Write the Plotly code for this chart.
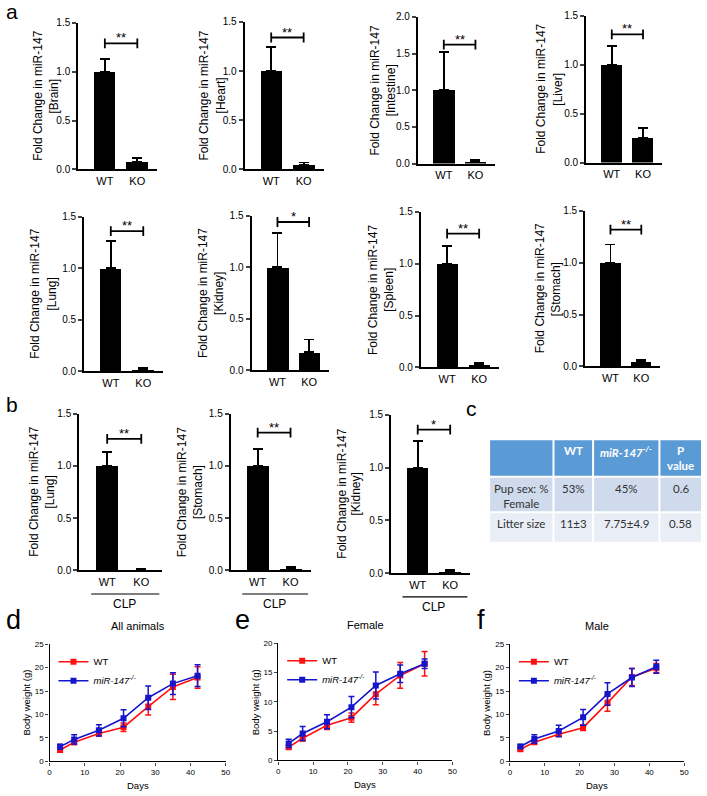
import plotly.graph_objects as go

W, H = 707, 796
FONT = "Liberation Sans, Arial, sans-serif"
TFONT = "Lato, Open Sans, sans-serif"

# ---------------- data ----------------
groups = ["WT", "KO"]

organs_a = ["Brain", "Heart", "Intestine", "Liver", "Lung", "Kidney", "Spleen", "Stomach"]
wt_mean_a = [1.0, 1.0, 1.0, 1.0, 1.0, 1.0, 1.0, 1.0]
wt_err_a = [0.13, 0.24, 0.52, 0.19, 0.265, 0.335, 0.17, 0.175]
ko_mean_a = [0.08, 0.05, 0.03, 0.25, 0.015, 0.175, 0.03, 0.045]
ko_err_a = [0.035, 0.02, 0.02, 0.10, 0.015, 0.125, 0.015, 0.02]
sig_a = ["**", "**", "**", "**", "**", "*", "**", "**"]
sig_y_a = [1.29, 1.34, 1.62, 1.31, 1.36, 1.44, 1.29, 1.32]
ymax_a = [1.5, 1.5, 2.0, 1.5, 1.5, 1.5, 1.5, 1.5]

organs_b = ["Lung", "Stomach", "Kidney"]
wt_mean_b = [1.0, 1.0, 1.0]
wt_err_b = [0.13, 0.16, 0.25]
ko_mean_b = [0.005, 0.015, 0.012]
ko_err_b = [0.005, 0.015, 0.02]
sig_b = ["**", "**", "*"]
sig_y_b = [1.26, 1.32, 1.36]
ymax_b = [1.5, 1.5, 1.5]
clp_label = "CLP"

ytitle_prefix = "Fold Change in miR-147"

table_header = ["", "<b>WT</b>", "<b><i>miR-147<sup>-/-</sup></i></b>", "<b>P<br>value</b>"]
table_row1 = ["Pup sex: %<br>Female", "53%", "45%", "0.6"]
table_row2 = ["Litter size", "11±3", "7.75±4.9", "0.58"]

days = [3, 7, 14, 21, 28, 35, 42]
line_titles = ["All animals", "Female", "Male"]
line_ymax = [25, 20, 25]
wt_all = [2.45, 4.1, 5.95, 7.3, 11.7, 15.9, 17.9]
wt_all_err = [0.4, 0.5, 0.5, 0.9, 1.8, 2.7, 2.3]
ko_all = [3.15, 4.7, 6.65, 9.2, 13.6, 16.6, 18.3]
ko_all_err = [0.5, 1.0, 1.2, 1.8, 2.5, 2.3, 2.3]
wt_fem = [2.25, 3.8, 6.0, 7.3, 11.3, 14.5, 16.5]
wt_fem_err = [0.3, 0.5, 0.7, 0.8, 1.8, 2.2, 2.1]
ko_fem = [2.9, 4.6, 6.6, 9.1, 12.8, 14.8, 16.5]
ko_fem_err = [0.7, 1.2, 1.2, 1.8, 2.3, 1.5, 0.8]
wt_male = [2.6, 4.1, 5.8, 7.2, 12.5, 18.0, 19.9]
wt_male_err = [0.4, 0.4, 0.5, 0.6, 1.8, 1.8, 1.0]
ko_male = [3.2, 4.8, 6.5, 9.4, 14.4, 17.9, 20.2]
ko_male_err = [0.4, 0.9, 1.2, 1.7, 2.4, 1.9, 1.4]
series_names = ["WT", "<i>miR-147<sup>-/-</sup></i>"]

# ---------------- layout positions (px) ----------------
boxes_a = [(77, 157, 17, 166), (245, 325, 16, 166), (420, 498, 11, 160), (590, 667, 10, 159),
           (83, 163, 214, 371), (252, 330, 213, 370), (423, 502, 209, 367), (589, 665, 208, 366)]
boxes_b = [(78, 162, 414, 573), (231, 312, 414, 573), (393, 473, 415, 576)]
title_off_a = [(-41, -24), (-41, -24), (-43, -27), (-45, -28),
               (-50, -32), (-49, -33), (-49, -32), (-46, -30)]
title_off_b = [(-46, -29), (-49, -33), (-50, -35)]
boxes_line = [(48, 226, 648, 767), (279, 455, 647, 766), (513, 689, 648, 767)]
table_col_edges = [492, 557, 597, 664, 707]
table_row_edges = [440, 478, 514, 545]

RED = "#FF1010"
BLUE = "#1515CC"
HEAD = "#5B9BD5"
ROW1 = "#CFDBEC"
ROW2 = "#E8EDF6"

fig = go.Figure()
layout = {}
annotations = []
shapes = []


def px(v):
    return v / W


def py(v):
    return 1 - v / H


def names(i):
    s = "" if i == 1 else str(i)
    return "x" + s, "y" + s, "xaxis" + s, "yaxis" + s


def vtext(xp, yp, text, size):
    annotations.append(dict(x=px(xp), y=py(yp), xref="paper", yref="paper", text=text,
                            textangle=-90, showarrow=False, xanchor="center", yanchor="middle",
                            font=dict(family=FONT, size=size, color="black")))


axis_idx = 0


def bar_panel(box, toff, organ, wt, wte, ko, koe, sig, sig_y, ymax, clp=False):
    global axis_idx
    axis_idx += 1
    xr, yr, xk, yk = names(axis_idx)
    l, r, t, b = box
    layout[xk] = dict(domain=[px(l), px(r)], range=[-0.82, 1.62], anchor=yr,
                      showline=True, linewidth=2, linecolor="black", ticks="",
                      tickvals=[0, 1], ticktext=groups, showgrid=False, zeroline=False,
                      tickfont=dict(family=FONT, size=11, color="black"), fixedrange=True)
    layout[yk] = dict(domain=[py(b), py(t)], range=[0, ymax], anchor=xr,
                      showline=True, linewidth=2, linecolor="black", ticks="outside",
                      ticklen=4, tickwidth=1.5, dtick=0.5, tickformat=".1f",
                      showgrid=False, zeroline=False,
                      tickfont=dict(family=FONT, size=10, color="black"), fixedrange=True)
    fig.add_trace(go.Bar(x=[0, 1], y=[wt, ko], width=0.67, marker=dict(color="black", line=dict(width=0)),
                         error_y=dict(type="data", symmetric=False, array=[wte, koe], arrayminus=[0, 0],
                                      color="black", thickness=1.8, width=5),
                         xaxis=xr, yaxis=yr, showlegend=False))
    fig.add_trace(go.Scatter(x=[0, 1], y=[sig_y, sig_y], mode="lines+markers",
                             line=dict(color="black", width=1.8),
                             marker=dict(symbol="line-ns", size=7, line=dict(color="black", width=1.8)),
                             xaxis=xr, yaxis=yr, showlegend=False, hoverinfo="skip"))
    annotations.append(dict(x=0.5, y=sig_y, xref=xr, yref=yr, text=sig, showarrow=False,
                            yanchor="bottom", yshift=-4, font=dict(family=FONT, size=13, color="black")))
    ymid = (t + b) / 2
    vtext(l + toff[0], ymid, ytitle_prefix, 12)
    vtext(l + toff[1], ymid, "[" + organ + "]", 12)
    if clp:
        shapes.append(dict(type="line", xref=xr, yref="paper", x0=-0.47, x1=1.53,
                           y0=py(b + 24), y1=py(b + 24), line=dict(color="black", width=1.2)))
        annotations.append(dict(x=0.5, y=py(b + 34), xref=xr, yref="paper", text=clp_label,
                                showarrow=False, xanchor="center", yanchor="middle",
                                font=dict(family=FONT, size=12, color="black")))


for i in range(len(organs_a)):
    bar_panel(boxes_a[i], title_off_a[i], organs_a[i], wt_mean_a[i], wt_err_a[i], ko_mean_a[i],
              ko_err_a[i], sig_a[i], sig_y_a[i], ymax_a[i])
for i in range(len(organs_b)):
    bar_panel(boxes_b[i], title_off_b[i], organs_b[i], wt_mean_b[i], wt_err_b[i], ko_mean_b[i],
              ko_err_b[i], sig_b[i], sig_y_b[i], ymax_b[i], clp=True)

line_data = [(wt_all, wt_all_err, ko_all, ko_all_err),
             (wt_fem, wt_fem_err, ko_fem, ko_fem_err),
             (wt_male, wt_male_err, ko_male, ko_male_err)]
legend_ids = ["legend", "legend2", "legend3"]

for k in range(3):
    axis_idx += 1
    xr, yr, xk, yk = names(axis_idx)
    l, r, t, b = boxes_line[k]
    layout[xk] = dict(domain=[px(l), px(r)], range=[0, 50], anchor=yr, dtick=10,
                      showline=True, linewidth=1.3, linecolor="black", ticks="outside",
                      ticklen=3, tickwidth=1.2, showgrid=False, zeroline=False,
                      tickfont=dict(family=FONT, size=8, color="black"), fixedrange=True)
    layout[yk] = dict(domain=[py(b), py(t)], range=[0, line_ymax[k]], anchor=xr, dtick=5,
                      showline=True, linewidth=1.3, linecolor="black", ticks="outside",
                      ticklen=3, tickwidth=1.2, showgrid=False, zeroline=False,
                      tickfont=dict(family=FONT, size=8, color="black"), fixedrange=True)
    wt, wte, ko, koe = line_data[k]
    for vals, errs, col, nm in [(wt, wte, RED, series_names[0]), (ko, koe, BLUE, series_names[1])]:
        fig.add_trace(go.Scatter(x=days, y=vals, mode="lines+markers", name=nm,
                                 line=dict(color=col, width=1.6),
                                 marker=dict(symbol="square", size=6, color=col),
                                 error_y=dict(type="data", array=errs, color=col, thickness=1.5, width=3),
                                 xaxis=xr, yaxis=yr, legend=legend_ids[k], showlegend=True))
    lk = legend_ids[k]
    layout[lk] = dict(x=px(l + 4), y=py(t + 3), xanchor="left", yanchor="top",
                      bgcolor="rgba(0,0,0,0)", font=dict(family=FONT, size=9.5, color="black"),
                      tracegroupgap=0, itemwidth=30)
    annotations.append(dict(x=px((l + r) / 2), y=py(t - 19), xref="paper", yref="paper",
                            text=line_titles[k], showarrow=False, xanchor="center", yanchor="middle",
                            font=dict(family=FONT, size=11, color="black")))
    annotations.append(dict(x=px((l + r) / 2), y=py(b + 24), xref="paper", yref="paper",
                            text="Days", showarrow=False, xanchor="center", yanchor="middle",
                            font=dict(family=FONT, size=9.5, color="black")))
    vtext(l - 23, (t + b) / 2, "Body weight (g)", 9.5)

# table c (cells as shapes, text as annotations)
table_rows = [table_header, table_row1, table_row2]
row_fills = [HEAD, ROW1, ROW2]
row_text_colors = ["white", "#333333", "#333333"]
for ri, row in enumerate(table_rows):
    top, bot = table_row_edges[ri], table_row_edges[ri + 1]
    for ci, txt in enumerate(row):
        lft, rgt = table_col_edges[ci], table_col_edges[ci + 1]
        shapes.append(dict(type="rect", xref="paper", yref="paper", layer="below",
                           x0=px(lft + 1), x1=px(rgt - 1), y0=py(bot - 1), y1=py(top + 1),
                           fillcolor=row_fills[ri], line=dict(width=0)))
        if txt:
            annotations.append(dict(x=px((lft + rgt) / 2), y=py(top + 3), xref="paper", yref="paper",
                                    text=txt, showarrow=False, xanchor="center", yanchor="top",
                                    align="center",
                                    font=dict(family=TFONT, size=11.5, color=row_text_colors[ri])))

# panel letters
for txt, x, y, s in [("a", 2, -8, 21), ("b", 2, 391, 21), ("c", 467, 395, 21),
                     ("d", 2, 606, 27), ("e", 233, 606, 27), ("f", 478, 606, 27)]:
    annotations.append(dict(x=px(x), y=py(y), xref="paper", yref="paper", text=txt, showarrow=False,
                            xanchor="left", yanchor="top", font=dict(family=FONT, size=s, color="black")))

layout.update(dict(width=W, height=H, margin=dict(l=0, r=0, t=0, b=0),
                   paper_bgcolor="white", plot_bgcolor="white",
                   annotations=annotations, shapes=shapes, bargap=0))
fig.update_layout(**layout)
fig.write_html("out.html", config={"displayModeBar": False},
               post_script="document.body.style.margin='0';document.body.style.overflow='hidden';")
